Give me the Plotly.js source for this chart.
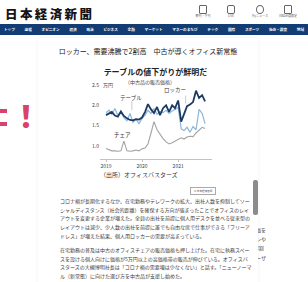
<!DOCTYPE html>
<html><head><meta charset="utf-8">
<script src="https://cdn.plot.ly/plotly-3.0.1.min.js"></script>
<style>
html,body{margin:0;padding:0;width:308px;height:282px;overflow:hidden;background:#fff;font-family:"Noto Sans CJK JP","Noto Sans",sans-serif;}
.abs{position:absolute;}
#logo{left:5px;top:4px;font-size:12.5px;font-weight:900;color:#151515;letter-spacing:2.4px;white-space:nowrap;font-family:"Noto Sans CJK JP";}
.ico{position:absolute;top:5px;width:6px;height:7px;border:1px solid #666;border-radius:1px;}
.icol{position:absolute;top:14px;font-size:3px;color:#666;white-space:nowrap;transform:translateX(-50%);}
#nav{left:0;top:24px;width:308px;height:11px;background:#123c73;display:flex;justify-content:space-between;align-items:center;padding:0 4px;box-sizing:border-box;}
#nav span{color:#fff;font-size:3.6px;font-weight:700;white-space:nowrap;}
#exc{left:11px;top:92px;font-size:30px;font-weight:900;color:#d8436c;white-space:nowrap;}
.dash{position:absolute;left:0;width:7px;height:4px;background:#d8436c;}
#panel{left:38px;top:38px;width:220px;height:260px;background:#fff;box-shadow:0 0 4px rgba(0,0,0,0.06);}
#head{left:38px;top:46px;width:220px;text-align:center;font-size:7px;color:#222;white-space:nowrap;}
#chart{left:60px;top:62px;width:180px;height:128px;}
#btn{left:190px;top:187px;width:24px;height:6px;border:0.5px solid #aaa;font-size:2.6px;color:#555;line-height:6px;text-align:center;white-space:nowrap;}
.para{position:absolute;left:60px;font-size:5px;line-height:8.7px;color:#3a3a3a;white-space:nowrap;}
#scroll{left:253px;top:180px;width:5px;height:35px;background:#8b8b8b;border-radius:2px;}
.rt{position:absolute;left:256px;font-size:5px;color:#444;white-space:nowrap;}
</style></head><body>
<div id="logo" class="abs">日本経済新聞</div>
<div class="ico" style="left:199px"></div><div class="icol" style="left:203px">朝刊・夕刊</div>
<div class="ico" style="left:227px;border-radius:2px"></div><div class="icol" style="left:231px">LIVE</div>
<div class="ico" style="left:256px;border-radius:50%"></div><div class="icol" style="left:260px">Myニュース</div>
<div class="ico" style="left:284px"></div><div class="icol" style="left:288px">日経会員限定</div>
<div id="nav" class="abs"><span>トップ</span><span>速報</span><span>オピニオン</span><span>経済</span><span>政治</span><span>ビジネス</span><span>金融</span><span>マーケット</span><span>マネーのまなび</span><span>テック</span><span>国際</span><span>スポーツ</span><span>社会・調査</span><span>地域</span></div>
<div class="dash" style="top:109px"></div>
<div class="dash" style="top:122px"></div>
<div id="exc" class="abs">！</div>
<div class="rt" style="top:226px">価を</div>
<div class="rt" style="top:235px">ンや</div>
<div class="rt" style="top:244px">2割</div>
<div class="rt" style="top:254px">ーザ</div>
<div id="panel" class="abs"></div>
<div id="scroll" class="abs"></div>
<div id="head" class="abs">ロッカー、需要沸騰で2割高　中古が導くオフィス新常態</div>
<div id="chart" class="abs"></div>
<div id="btn" class="abs">▣ 日本経済新聞</div>
<div class="para" style="top:197px">
<div>コロナ禍が長期化するなか、在宅勤務やテレワークの拡大、出社人数を抑制してソー</div>
<div>シャルディスタンス（社会的距離）を確保する方向が強まったことでオフィスのレイ</div>
<div>アウトを変更する企業が増えた。全員の出社を前提に個人用デスクを並べる従来型の</div>
<div>レイアウトは減少、少人数の出社を前提に誰でも自由な席で仕事ができる「フリーア</div>
<div>ドレス」が増えた結果、個人用ロッカーの需要が高まっている。</div>
</div>
<div class="para" style="top:246px">
<div>在宅勤務の普及は中古のオフィスチェアの販売価格も押し上げた。在宅に執務スペー</div>
<div>スを設ける個人向けに価格が5万円以上の高価格帯の販売が伸びている。オフィスバ</div>
<div>スターズの大槻博明社長は「コロナ禍の需要増は少なくない」と話す。「ニューノーマ</div>
<div>ル（新常態）に向けた選び方を中古品が支援し始めた。</div>
</div>
<script>
var months = ['2019-01-01','2019-02-01','2019-03-01','2019-04-01','2019-05-01','2019-06-01','2019-07-01','2019-08-01','2019-09-01','2019-10-01','2019-11-01','2019-12-01',
'2020-01-01','2020-02-01','2020-03-01','2020-04-01','2020-05-01','2020-06-01','2020-07-01','2020-08-01','2020-09-01','2020-10-01','2020-11-01','2020-12-01',
'2021-01-01','2021-02-01','2021-03-01','2021-04-01','2021-05-01','2021-06-01','2021-07-01','2021-08-01','2021-09-01','2021-10-01'];
var locker = [1.76,1.80,1.84,1.75,1.72,1.85,1.74,1.68,1.64,1.63,1.66,1.65,1.70,1.84,2.03,1.90,1.81,1.96,1.76,1.93,2.00,1.84,2.00,1.93,2.12,1.60,1.78,1.98,2.02,2.08,2.36,2.18,2.25,2.10];
var table = [1.82,1.88,1.78,1.92,1.75,1.85,1.70,1.62,1.80,1.58,1.66,1.55,1.68,1.76,1.88,1.80,1.92,1.78,1.85,1.82,1.88,1.80,1.86,1.90,1.95,1.42,1.38,1.46,1.34,1.48,1.40,1.90,1.80,1.55];
var chair = [0.94,0.90,0.88,0.88,0.87,0.88,1.12,0.88,0.87,0.88,0.90,0.88,0.93,0.95,1.05,1.32,1.60,1.40,1.28,1.18,1.10,1.05,1.08,1.12,1.16,1.20,1.17,1.22,1.24,1.23,1.32,1.38,1.46,1.43];
var seriesNames = ['ロッカー','テーブル','チェア'];
var xTickVals = ['2019-01-01','2020-01-01','2021-01-01'];
var xTickText = ['2019','2020','2021'];
var yTickVals = [1.0,1.5,2.0,2.5];
var yTickText = ['1.0','1.5','2.0','2.5'];
var chartTitle = 'テーブルの値下がりが鮮明だ';
var chartSub = '（中古品の販売価格）';
var unitLabel = '万円';
var sourceText = '（出所）オフィスバスターズ';

var F = 'Noto Sans CJK JP';
var traces = [
 {x:months, y:chair, type:'scatter', mode:'lines', name:seriesNames[2], line:{color:'#a3a3a3', width:1.1}},
 {x:months, y:table, type:'scatter', mode:'lines', name:seriesNames[1], line:{color:'#8cb6da', width:1.2}},
 {x:months, y:locker, type:'scatter', mode:'lines', name:seriesNames[0], line:{color:'#1d3a62', width:1.8}}
];
var layout = {
 width:180, height:128,
 margin:{l:40, r:28, t:22, b:31},
 paper_bgcolor:'rgba(0,0,0,0)', plot_bgcolor:'rgba(0,0,0,0)',
 showlegend:false,
 font:{family:F, size:5, color:'#444'},
 title:{text:'<b>'+chartTitle+'</b>', font:{family:F, size:8, color:'#222'}, xref:'container', yref:'container', x:0.53, xanchor:'center', y:0.945, yanchor:'top'},
 xaxis:{type:'date', range:['2018-11-01','2021-12-10'], tickvals:xTickVals, ticktext:xTickText, showline:true, linecolor:'#9a9a9a', linewidth:0.6, ticks:'outside', ticklen:2, tickcolor:'#9a9a9a', tickwidth:0.6, tickfont:{family:F, size:5, color:'#444'}, showgrid:false, zeroline:false},
 yaxis:{range:[0.68,2.525], tickvals:yTickVals, ticktext:yTickText, showgrid:false, zeroline:false, showline:false, ticks:'', tickfont:{family:F, size:5, color:'#444'}},
 annotations:[
  {text:chartSub, xref:'paper', yref:'paper', x:0.45, y:1.03, xanchor:'center', yanchor:'middle', showarrow:false, font:{family:F, size:5, color:'#444'}},
  {text:unitLabel, xref:'paper', yref:'y', x:0.0, y:2.5, xanchor:'left', yanchor:'middle', xshift:1, showarrow:false, font:{family:F, size:5, color:'#444'}},
  {text:seriesNames[0], xref:'x', yref:'y', x:'2020-12-01', y:2.38, xanchor:'center', yanchor:'middle', showarrow:false, font:{family:F, size:5.5, color:'#333'}},
  {text:seriesNames[1], xref:'x', yref:'y', x:'2019-09-10', y:2.18, xanchor:'center', yanchor:'middle', showarrow:false, font:{family:F, size:5.5, color:'#333'}},
  {text:seriesNames[2], xref:'x', yref:'y', x:'2019-06-15', y:1.27, xanchor:'center', yanchor:'middle', showarrow:false, font:{family:F, size:5.5, color:'#333'}},
  {text:sourceText, xref:'paper', yref:'paper', x:0.0, y:-0.21, xanchor:'left', yanchor:'middle', xshift:-2, showarrow:false, font:{family:F, size:6, color:'#333'}}
 ],
 shapes:[
  {type:'line', xref:'x', yref:'y', x0:'2021-03-18', x1:'2021-03-18', y0:2.24, y1:2.04, line:{color:'#999', width:0.5}},
  {type:'line', xref:'x', yref:'y', x0:'2019-09-20', x1:'2019-09-20', y0:2.10, y1:1.88, line:{color:'#999', width:0.5}}
 ]
};
Plotly.newPlot('chart', traces, layout, {staticPlot:true, displayModeBar:false});
</script>
</body></html>
